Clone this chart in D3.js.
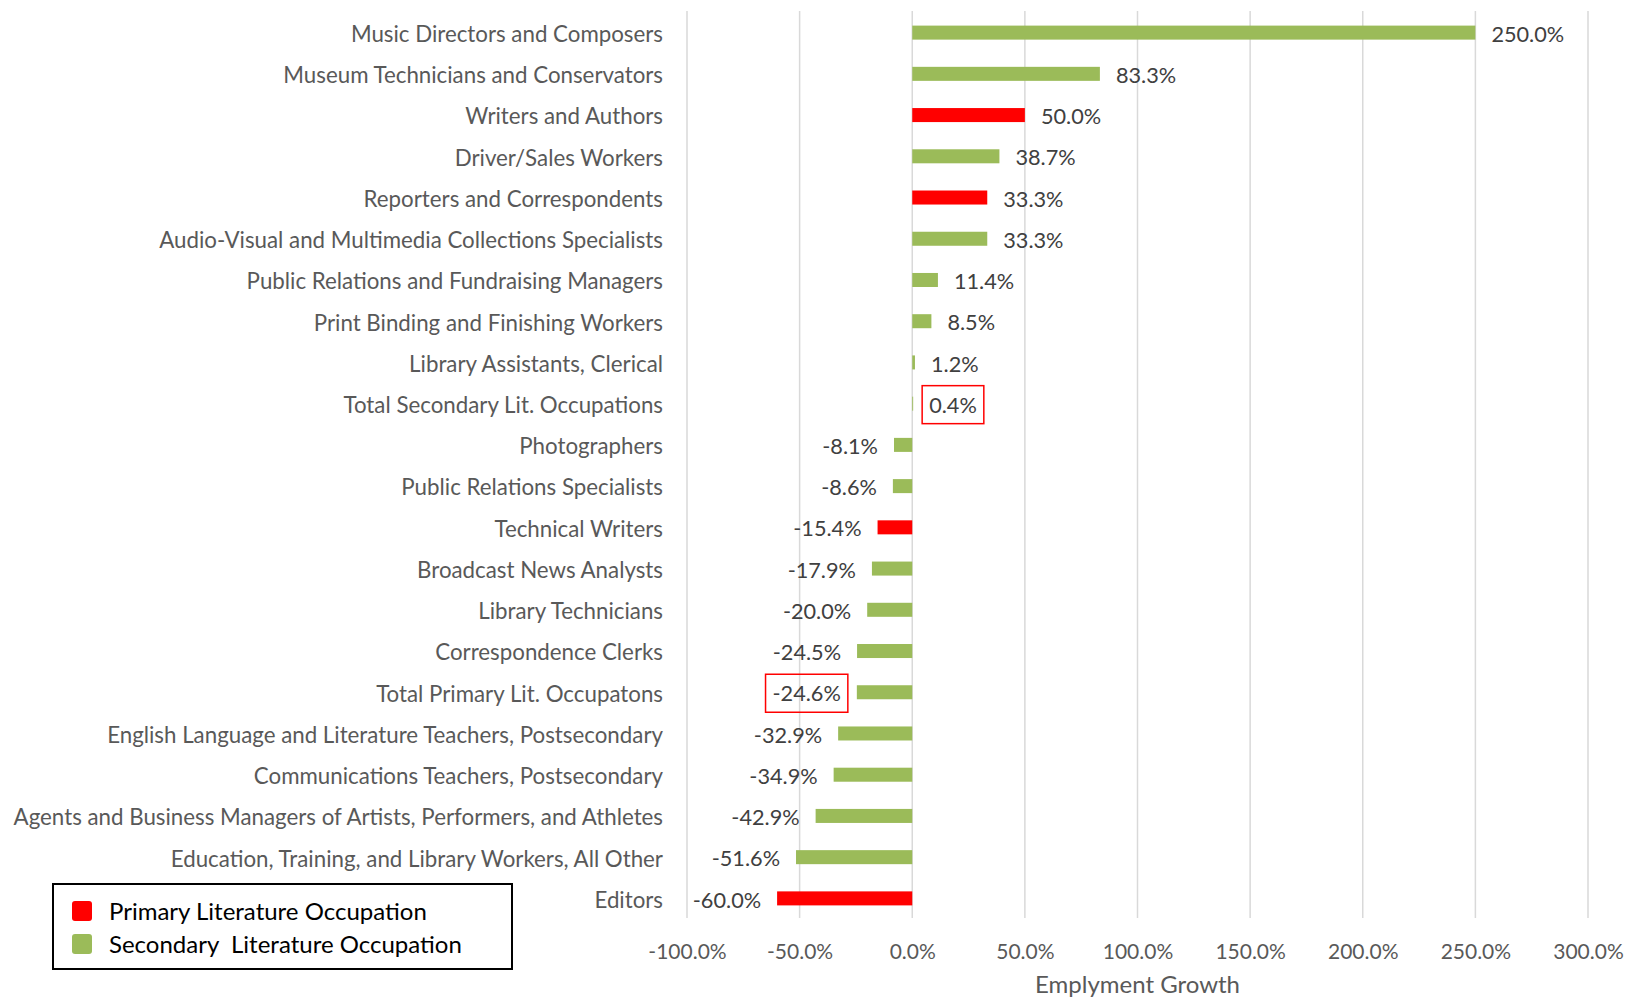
<!DOCTYPE html>
<html>
<head>
<meta charset="utf-8">
<script src="https://cdn.jsdelivr.net/npm/d3@7"></script>
<style>
  body { margin: 0; background: #fff; }
  svg { font-family: Lato, "Open Sans", sans-serif; }
</style>
</head>
<body>
<div id="chart"></div>
<script>
// Occupations, top to bottom
const categories = [
    'Music Directors and Composers',
    'Museum Technicians and Conservators',
    'Writers and Authors',
    'Driver/Sales Workers',
    'Reporters and Correspondents',
    'Audio-Visual and Multimedia Collections Specialists',
    'Public Relations and Fundraising Managers',
    'Print Binding and Finishing Workers',
    'Library Assistants, Clerical',
    'Total Secondary Lit. Occupations',
    'Photographers',
    'Public Relations Specialists',
    'Technical Writers',
    'Broadcast News Analysts',
    'Library Technicians',
    'Correspondence Clerks',
    'Total Primary Lit. Occupatons',
    'English Language and Literature Teachers, Postsecondary',
    'Communications Teachers, Postsecondary',
    'Agents and Business Managers of Artists, Performers, and Athletes',
    'Education, Training, and Library Workers, All Other',
    'Editors'
];

// Employment growth in percent
const growth = [250.0, 83.3, 50.0, 38.7, 33.3, 33.3, 11.4, 8.5, 1.2, 0.4,
    -8.1, -8.6, -15.4, -17.9, -20.0, -24.5, -24.6, -32.9, -34.9, -42.9, -51.6, -60.0];

// 'P' = primary literature occupation, 'S' = secondary
const group = ['S', 'S', 'P', 'S', 'P', 'S', 'S', 'S', 'S', 'S',
    'S', 'S', 'P', 'S', 'S', 'S', 'S', 'S', 'S', 'S', 'S', 'P'];

// totals get a red box round their label
const highlighted = ['Total Secondary Lit. Occupations', 'Total Primary Lit. Occupatons'];

const xTicks = [-100, -50, 0, 50, 100, 150, 200, 250, 300];

const legendItems = [
    { key: 'P', label: 'Primary Literature Occupation' },
    { key: 'S', label: 'Secondary  Literature Occupation' }
];

const colors = { P: '#FF0000', S: '#9BBB59' };

const width = 1627, height = 998;
const plot = { left: 687, right: 1588, top: 12, bottom: 919 };

const data = categories.map((name, i) => ({
    name, value: growth[i], group: group[i]
}));

const svg = d3.select('#chart').append('svg')
    .attr('width', width)
    .attr('height', height);

const x = d3.scaleLinear()
    .domain([-100, 300])
    .range([plot.left, plot.right]);

const y = d3.scaleBand()
    .domain(categories)
    .range([plot.top, plot.bottom])
    .paddingInner(0.66)
    .paddingOuter(0.33);

// Gridlines
svg.append('g')
    .selectAll('line')
    .data(xTicks)
    .join('line')
    .attr('x1', d => x(d)).attr('x2', d => x(d))
    .attr('y1', plot.top - 1).attr('y2', plot.bottom - 1)
    .attr('stroke', '#D9D9D9')
    .attr('stroke-width', 1.5);

// X axis labels
const xAxis = svg.append('g')
    .attr('transform', `translate(0,${plot.bottom})`)
    .call(d3.axisBottom(x).tickValues(xTicks).tickSize(0).tickPadding(25)
        .tickFormat(d => d.toFixed(1) + '%'));
xAxis.select('.domain').remove();
xAxis.selectAll('text')
    .attr('fill', '#595959')
    .attr('font-size', 21)
    .attr('font-family', 'Lato, sans-serif');

svg.append('text')
    .attr('x', (plot.left + plot.right) / 2)
    .attr('y', 993)
    .attr('text-anchor', 'middle')
    .attr('fill', '#595959')
    .attr('font-size', 24)
    .text('Emplyment Growth');

// Category labels
const yAxis = svg.append('g')
    .attr('transform', `translate(${plot.left - 24},0)`)
    .call(d3.axisLeft(y).tickSize(0).tickPadding(0));
yAxis.select('.domain').remove();
yAxis.selectAll('text')
    .attr('dy', '0.42em')
    .attr('fill', '#595959')
    .attr('font-size', 22.3)
    .attr('font-family', 'Lato, sans-serif');

// Bars
svg.append('g')
    .selectAll('rect')
    .data(data)
    .join('rect')
    .attr('x', d => x(Math.min(0, d.value)))
    .attr('width', d => Math.abs(x(d.value) - x(0)))
    .attr('y', d => y(d.name))
    .attr('height', y.bandwidth())
    .attr('fill', d => colors[d.group]);

// Value labels
const labels = svg.append('g')
    .selectAll('g')
    .data(data)
    .join('g')
    .attr('transform', d => {
        const gap = 16;
        const px = d.value >= 0 ? x(d.value) + gap : x(d.value) - gap;
        return `translate(${px},${y(d.name) + y.bandwidth() / 2})`;
    });

labels.append('text')
    .attr('text-anchor', d => d.value >= 0 ? 'start' : 'end')
    .attr('dy', '0.42em')
    .attr('fill', '#404040')
    .attr('font-size', 21.7)
    .text(d => d.value.toFixed(1) + '%');

labels.filter(d => highlighted.includes(d.name))
    .each(function() {
        const g = d3.select(this);
        const bb = g.select('text').node().getBBox();
        g.insert('rect', 'text')
            .attr('x', bb.x - 7)
            .attr('y', -18)
            .attr('width', bb.width + 14)
            .attr('height', 38)
            .attr('fill', 'none')
            .attr('stroke', '#FF0000')
            .attr('stroke-width', 1.5);
    });

// Legend
const legend = svg.append('g').attr('transform', 'translate(53,884)');
legend.append('rect')
    .attr('width', 459).attr('height', 85)
    .attr('fill', '#fff')
    .attr('stroke', '#000')
    .attr('stroke-width', 2);

const li = legend.selectAll('g')
    .data(legendItems)
    .join('g')
    .attr('transform', (d, i) => `translate(19,${27 + i * 33})`);
li.append('rect')
    .attr('x', 0).attr('y', -10)
    .attr('width', 20).attr('height', 20)
    .attr('rx', 3)
    .attr('fill', d => colors[d.key]);
li.append('text')
    .attr('x', 37)
    .attr('dy', '0.38em')
    .attr('fill', '#000')
    .attr('font-size', 24)
    .style('white-space', 'pre')
    .text(d => d.label);
</script>
</body>
</html>
